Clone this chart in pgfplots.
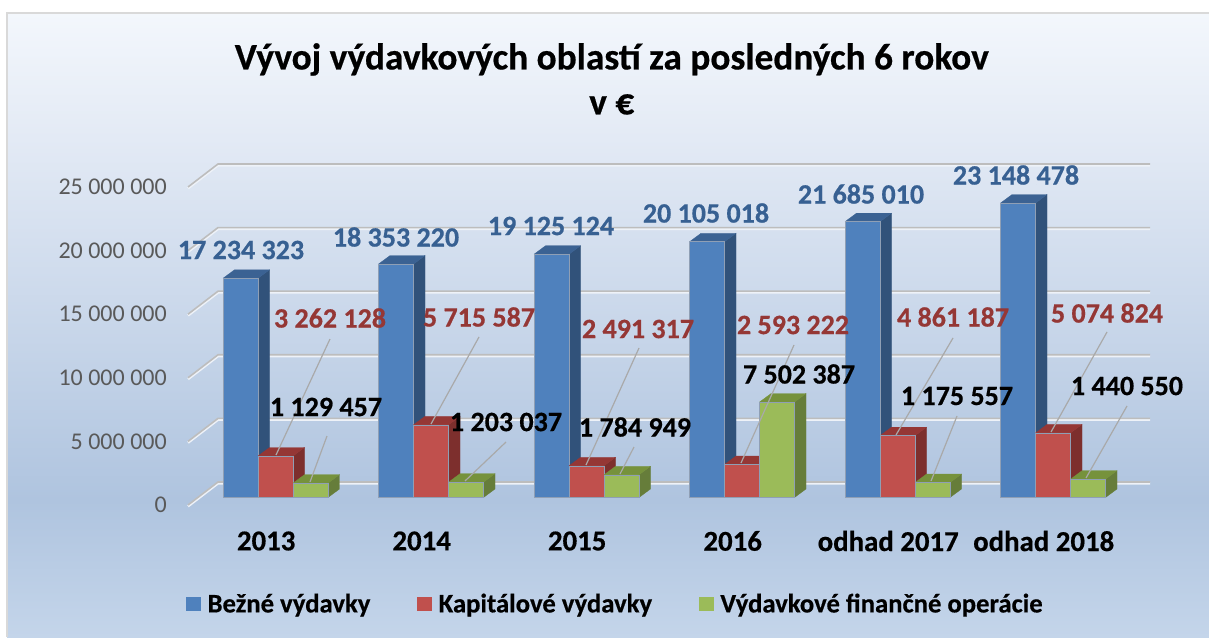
\documentclass[border=0pt]{standalone}
\usepackage{pgfplots}
\usepackage{pgfplotstable}
\usepackage{fontspec}
\pgfplotsset{compat=1.18}
\setmainfont{Carlito}[BoldFeatures={FakeBold=0.5}]
\definecolor{bluef}{HTML}{4F81BD}\definecolor{blues}{HTML}{31527A}\definecolor{bluet}{HTML}{3B6293}
\definecolor{redf}{HTML}{C0504D}\definecolor{reds}{HTML}{7D2F2D}\definecolor{redt}{HTML}{953735}
\definecolor{greenf}{HTML}{9BBB59}\definecolor{greens}{HTML}{667D3A}\definecolor{greent}{HTML}{76923C}
\definecolor{lblblue}{HTML}{376092}\definecolor{lblred}{HTML}{953735}
\definecolor{ticktxt}{HTML}{595959}\definecolor{gridc}{HTML}{BDBDBD}\definecolor{gridl}{HTML}{EEF2F8}
\definecolor{leader}{HTML}{A9A9A9}\definecolor{edgec}{HTML}{8F9FB5}
\definecolor{bg1}{HTML}{C4D5EA}\definecolor{bg2}{HTML}{AFC4DF}\definecolor{bg3}{HTML}{E3EAF5}\definecolor{bg4}{HTML}{F3F7FC}
\pgfdeclareverticalshading{chartbg}{100bp}{color(0bp)=(bg1);color(25bp)=(bg1);color(36bp)=(bg2);color(65bp)=(bg3);color(75bp)=(bg4);color(100bp)=(bg4)}
% values in millions of euro
\pgfplotstableread{
x bezne kapital fin
0 17.234323 3.262128 1.129457
1 18.353220 5.715587 1.203037
2 19.125124 2.491317 1.784949
3 20.105018 2.593222 7.502387
4 21.685010 4.861187 1.175557
5 23.148478 5.074824 1.440550
}\vydavky
\newcommand\gridline[1]{%
  \pgfmathsetmacro\ya{#1-0.59}\pgfmathsetmacro\yb{#1+1.2186}%
  \pgfmathsetmacro\yc{\ya-0.1}\pgfmathsetmacro\yd{\yb-0.1}%
  \edef\tmp{\noexpand\addplot[forget plot,gridl,line width=1.9pt,no markers] coordinates {(-0.5627,\yc) (-0.3698,\yd) (5.624,\yd)};
  \noexpand\addplot[forget plot,gridc,line width=1.2pt,no markers] coordinates {(-0.5627,\ya) (-0.3698,\yb) (5.624,\yb)};}\tmp}
\newcommand\faces[4]{% centre x, value, top colour, side colour
  \pgfmathsetmacro\xa{#1-0.1125}\pgfmathsetmacro\xb{#1+0.1125}%
  \pgfmathsetmacro\xc{\xa+0.074}\pgfmathsetmacro\xd{\xb+0.074}%
  \pgfmathsetmacro\yt{#2+0.668}%
  \edef\tmp{\noexpand\addplot[forget plot,fill=#4,draw=#4,line width=0.2pt,no markers] coordinates {(\xb,0) (\xd,0.668) (\xd,\yt) (\xb,#2) (\xb,0)};
  \noexpand\addplot[forget plot,fill=#3,draw=#3,line width=0.2pt,no markers] coordinates {(\xa,#2) (\xc,\yt) (\xd,\yt) (\xb,#2) (\xa,#2)};}\tmp}
\begin{document}
\begin{tikzpicture}
\useasboundingbox (0,0) rectangle (906.75pt,477.75pt);
\fill[white] (0,0) rectangle (906.75pt,477.75pt);
\shade[shading=chartbg] (5.25pt,0) rectangle (906.75pt,468pt);
\draw[line width=1.4pt,black!15] (5.25pt,0) -- (5.25pt,468pt) -- (906.75pt,468pt);
\begin{axis}[
  at={(0,0)},anchor=south west,scale only axis,width=906.75pt,height=477.75pt,
  xmin=-1.7717,xmax=6.0032,ymin=-10.967,ymax=39.11,clip=false,
  axis line style={draw=none},major tick length=0pt,tick style={draw=none},
  xtick={0,1,2,3,4,5},xticklabels={2013,2014,2015,2016,odhad 2017,odhad 2018},
  xticklabel style={anchor=center,xshift=-7pt,yshift=72pt,inner sep=0pt,font=\fontsize{21.6}{25}\selectfont\bfseries,text=black},
  ytick={0,5,10,15,20,25},yticklabels={0,5 000 000,10 000 000,15 000 000,20 000 000,25 000 000},
  yticklabel style={anchor=east,xshift=125.25pt,yshift=-5.6pt,inner sep=0pt,font=\fontsize{18}{22}\selectfont,text=ticktxt},
  title={Vývoj výdavkových oblastí za posledných 6 rokov\\v €},
  title style={at={(rel axis cs:0.506,0.8635)},anchor=center,align=center,inner sep=0pt,font=\fontsize{28}{33.75}\selectfont\bfseries},
  legend columns=3,
  legend style={at={(rel axis cs:0.1538,0.0518)},anchor=west,draw=none,fill=none,inner sep=0pt,outer sep=0pt,
    font=\fontsize{20}{24}\selectfont\bfseries,
    /tikz/every odd column/.append style={column sep=3pt},
    /tikz/every even column/.append style={column sep=33pt}},
  legend image code/.code={\fill[#1,draw=none] (0pt,-5.6pt) rectangle (11.25pt,5.6pt);},
  legend cell align=left,
]
\gridline{0}\gridline{5}\gridline{10}\gridline{15}\gridline{20}\gridline{25}
% blue
\faces{-0.225}{17.234323}{bluet}{blues}\faces{0.775}{18.353220}{bluet}{blues}\faces{1.775}{19.125124}{bluet}{blues}
\faces{2.775}{20.105018}{bluet}{blues}\faces{3.775}{21.685010}{bluet}{blues}\faces{4.775}{23.148478}{bluet}{blues}
\addplot[ybar,bar width=0.225,bar shift=-0.225,fill=bluef,draw=edgec,line width=0.4pt] table[x=x,y=bezne]{\vydavky};
\addlegendentry{Bežné výdavky}
% red
\faces{0}{3.262128}{redt}{reds}\faces{1}{5.715587}{redt}{reds}\faces{2}{2.491317}{redt}{reds}
\faces{3}{2.593222}{redt}{reds}\faces{4}{4.861187}{redt}{reds}\faces{5}{5.074824}{redt}{reds}
\addplot[ybar,bar width=0.225,bar shift=0,fill=redf,draw=edgec,line width=0.4pt] table[x=x,y=kapital]{\vydavky};
\addlegendentry{Kapitálové výdavky}
% green
\faces{0.225}{1.129457}{greent}{greens}\faces{1.225}{1.203037}{greent}{greens}\faces{2.225}{1.784949}{greent}{greens}
\faces{3.225}{7.502387}{greent}{greens}\faces{4.225}{1.175557}{greent}{greens}\faces{5.225}{1.440550}{greent}{greens}
\addplot[ybar,bar width=0.225,bar shift=0.225,fill=greenf,draw=edgec,line width=0.4pt] table[x=x,y=fin]{\vydavky};
\addlegendentry{Výdavkové finančné operácie}
\end{axis}
\begin{scope}[x=0.75pt,y=-0.75pt,shift={(0,477.75pt)}]
\draw[leader,line width=0.9pt]
 (330,339)--(276,455) (327,436)--(310,482)
 (479,337)--(431,424) (506,442)--(465,481)
 (639,348)--(586,465) (634,447)--(620,474)
 (794,345)--(741,463)
 (953,338)--(896,435) (957,416)--(931,481)
 (1107,332)--(1051,432) (1127,406)--(1086,478);
\tikzset{dl/.style={inner sep=0pt,font=\fontsize{21}{25}\selectfont\bfseries}}
\foreach \px/\py/\t in {241/250/17 234 323,396/237/18 353 220,551/226/19 125 124,706/213/20 105 018,861/194/21 685 010,1016/175/23 148 478}
  \node[dl,text=lblblue] at (\px,\py) {\t};
\foreach \px/\py/\t in {330/318/3 262 128,479/317/5 715 587,638/329/2 491 317,793/325/2 593 222,953/317/4 861 187,1107/313/5 074 824}
  \node[dl,text=lblred] at (\px,\py) {\t};
\foreach \px/\py/\t in {326/407/1 129 457,506/422/1 203 037,635/427/1 784 949,799/374/7 502 387,957/396/1 175 557,1127/386/1 440 550}
  \node[dl,text=black] at (\px,\py) {\t};
\end{scope}
\end{tikzpicture}
\end{document}
